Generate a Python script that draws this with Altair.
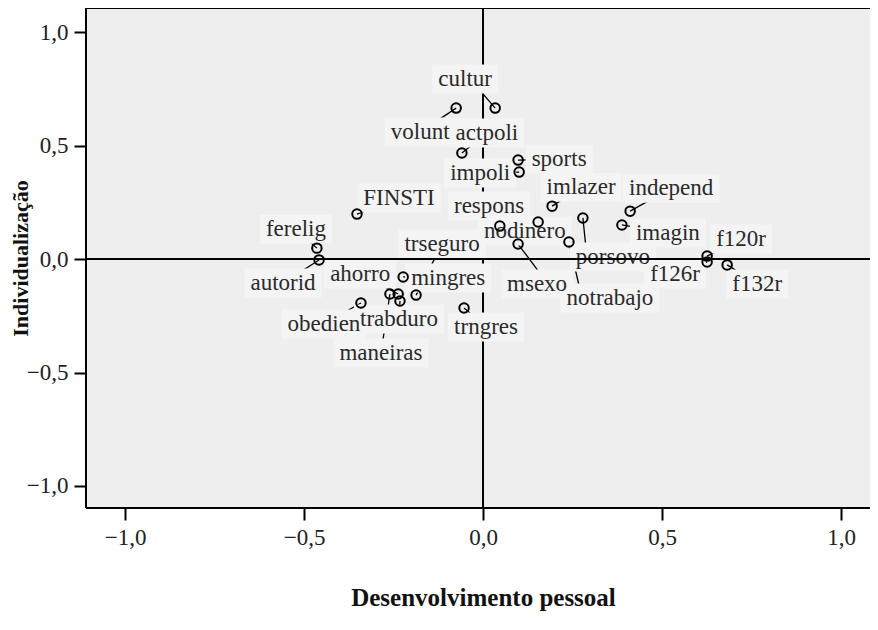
import altair as alt
import pandas as pd

# ---- data ----
names = ["cultur", "volunt", "actpoli", "sports", "impoli", "FINSTI", "independ",
         "imlazer", "respons", "ferelig", "imagin", "nodinero", "trseguro", "f120r",
         "porsovo", "autorid", "ahorro", "mingres", "msexo", "f126r", "notrabajo",
         "f132r", "obedien", "trabduro", "maneiras", "trngres"]
dim1 = [0.034, -0.075, -0.059, 0.098, 0.101, -0.352, 0.411,
        0.193, 0.154, -0.464, 0.388, 0.047, -0.187, 0.626,
        0.279, -0.458, -0.237, -0.223, 0.098, 0.626, 0.240,
        0.682, -0.341, -0.232, -0.260, -0.053]
dim2 = [0.665, 0.665, 0.467, 0.436, 0.383, 0.198, 0.211,
        0.233, 0.163, 0.048, 0.150, 0.145, -0.159, 0.013,
        0.181, -0.004, -0.154, -0.079, 0.066, -0.013, 0.075,
        -0.026, -0.194, -0.185, -0.154, -0.216]

# label placement offsets (pixels from the point)
label_dx = [-30, -36, 25, 41, -39, 42, 41, 29, -49, -21, 46, 25, 26, 34,
            30, -36, -38, 45, 19, -32, 41, 30, -37, -1, -9, 22]
label_dy = [-29, 24, -20, -1, 1, -16, -23, -19, -16, -19, 8, 5, -51, -17,
            39, 23, -20, 1, 40, 12, 56, 19, 21, 18, 59, 19]
# leader line end overrides (pixels from the point)
leader_override = {"porsovo": (4, 39), "msexo": (30, 40), "notrabajo": (13, 56),
                   "cultur": (-12, -14)}

tick_values = [-1.0, -0.5, 0.0, 0.5, 1.0]
x_title = "Desenvolvimento  pessoal"
y_title = "Individualização"

# ---- layout ----
W, H = 784, 500
XMIN, XMAX = -1.109, 1.081
YMIN, YMAX = -1.097, 1.106
PPX = W / (XMAX - XMIN)
PPY = H / (YMAX - YMIN)
FS = 23
FONT = "Liberation Serif"

cw = {'a': 444, 'b': 500, 'c': 444, 'd': 500, 'e': 444, 'f': 333, 'g': 500, 'h': 500,
      'i': 278, 'j': 278, 'k': 500, 'l': 278, 'm': 778, 'n': 500, 'o': 500, 'p': 500,
      'q': 500, 'r': 333, 's': 389, 't': 278, 'u': 500, 'v': 500, 'w': 722, 'x': 500,
      'y': 500, 'z': 444, 'F': 556, 'I': 333, 'N': 722, 'S': 556, 'T': 611}


def text_w(s):
    return sum(cw.get(c, 500) for c in s) * FS / 1000.0


df = pd.DataFrame({"name": names, "x": dim1, "y": dim2,
                   "dx": label_dx, "dy": label_dy})
df["lx"] = df["x"] + df["dx"] / PPX
df["ly"] = df["y"] - df["dy"] / PPY
ex, ey = [], []
for n, x, y, dx, dy in zip(names, dim1, dim2, label_dx, label_dy):
    odx, ody = leader_override.get(n, (dx, dy))
    ex.append(x + odx / PPX)
    ey.append(y - ody / PPY)
df["ex"] = ex
df["ey"] = ey
tw = df["name"].map(text_w)
df["bx1"] = df["lx"] - (tw / 2 + 6) / PPX
df["bx2"] = df["lx"] + (tw / 2 + 6) / PPX
df["by1"] = df["ly"] - (FS / 2 + 3) / PPY
df["by2"] = df["ly"] + (FS / 2 + 3) / PPY

xs = alt.Scale(domain=[XMIN, XMAX], nice=False, zero=False)
ys = alt.Scale(domain=[YMIN, YMAX], nice=False, zero=False)
lab = "replace(format(datum.value, '.1f'), '.', ',')"

xaxis = alt.Axis(
    values=tick_values, labelExpr=lab, grid=False, domain=False,
    tickSize=12, tickWidth=2, tickColor="black",
    labelFont=FONT, labelFontSize=FS, labelColor="#222", labelPadding=6,
    title=x_title, titleFont=FONT, titleFontSize=25, titleFontWeight="bold",
    titleColor="#111", titleX=397, titleY=89, titleAlign="center",
    titleBaseline="middle")
yaxis = alt.Axis(
    values=tick_values, labelExpr=lab, grid=False, domain=False,
    tickSize=12, tickWidth=2, tickColor="black",
    labelFont=FONT, labelFontSize=FS, labelColor="#222", labelPadding=6,
    title=y_title, titleFont=FONT, titleFontSize=22, titleFontWeight="bold",
    titleColor="#111", titleX=-66, titleY=250, titleAlign="center",
    titleBaseline="middle", titleAngle=-90)


def X(f):
    return alt.X(f, scale=xs, axis=xaxis)


def Y(f):
    return alt.Y(f, scale=ys, axis=yaxis)


base = alt.Chart(df)

frame_df = pd.DataFrame({"top": [YMAX], "bottom": [YMIN], "left": [XMIN], "zero": [0.0]})
fr = alt.Chart(frame_df)
top_line = fr.mark_rule(color="black", strokeWidth=2).encode(y=Y("top:Q"))
bottom_line = fr.mark_rule(color="black", strokeWidth=2).encode(y=Y("bottom:Q"))
left_line = fr.mark_rule(color="black", strokeWidth=2).encode(x=X("left:Q"))
vline = fr.mark_rule(color="black", strokeWidth=2).encode(x=X("zero:Q"))
hline = fr.mark_rule(color="black", strokeWidth=2).encode(y=Y("zero:Q"))

leaders = base.mark_rule(color="black", strokeWidth=1.3).encode(
    x=X("x:Q"), y=Y("y:Q"), x2="ex:Q", y2="ey:Q")

boxes = base.mark_rect(fill="#f4f4f4").encode(
    x=X("bx1:Q"), x2="bx2:Q", y=Y("by1:Q"), y2="by2:Q")

texts = base.mark_text(font=FONT, fontSize=FS, color="#2a2a2a",
                       align="center", baseline="middle").encode(
    x=X("lx:Q"), y=Y("ly:Q"), text="name:N")

points = base.mark_point(shape="circle", filled=False, color="black",
                         strokeWidth=2, size=90, opacity=1).encode(
    x=X("x:Q"), y=Y("y:Q"))

chart = alt.layer(vline, leaders, boxes, texts, hline, points,
                  top_line, bottom_line, left_line).properties(
    width=W, height=H,
    autosize=alt.AutoSizeParams(type="none"),
    padding={"left": 78, "top": 0, "right": 0, "bottom": 114},
    background="white",
).configure_view(fill="#eeeeee", stroke=None)

chart.save("out.html", embed_options={"renderer": "svg", "actions": False})
